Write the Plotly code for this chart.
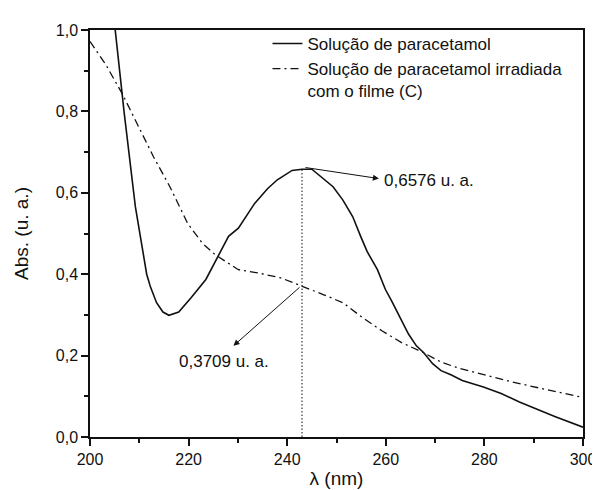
import plotly.graph_objects as go

# Solução de paracetamol (solid)
lam_par = [204.4, 205.1, 206.9, 209.2, 210.5, 211.5, 212.2, 213.5, 214.8, 216.0, 218.0,
           220.5, 223.5, 225.8, 228.1, 230.1, 233.4, 236.0, 238.0, 241.0, 243.0, 245.0,
           247.3, 249.3, 251.3, 253.3, 254.9, 256.2, 258.3, 259.9, 261.2, 262.9, 264.6,
           266.2, 267.7, 269.5, 271.2, 273.2, 275.5, 279.8, 283.4, 287.1, 291.1, 294.4, 300.0]
abs_par = [1.08, 1.0, 0.80, 0.566, 0.47, 0.40, 0.371, 0.330, 0.307, 0.299, 0.307,
           0.342, 0.387, 0.440, 0.493, 0.513, 0.574, 0.610, 0.632, 0.655, 0.658, 0.658,
           0.635, 0.615, 0.582, 0.541, 0.493, 0.456, 0.411, 0.363, 0.334, 0.293, 0.253,
           0.224, 0.207, 0.180, 0.163, 0.153, 0.139, 0.123, 0.107, 0.086, 0.066, 0.050, 0.024]

# Solução de paracetamol irradiada com o filme (C) (dash-dot)
lam_irr = [200.0, 203.2, 206.6, 210.2, 212.9, 216.2, 219.8, 222.8, 225.4, 230.1, 234.1,
           238.7, 243.0, 247.3, 251.3, 255.3, 259.2, 263.2, 267.7, 271.2, 275.1, 279.1,
           285.7, 292.4, 300.0]
abs_irr = [0.972, 0.915, 0.842, 0.753, 0.688, 0.615, 0.525, 0.476, 0.448, 0.411, 0.403,
           0.391, 0.3709, 0.350, 0.330, 0.293, 0.261, 0.232, 0.207, 0.184, 0.168, 0.155,
           0.135, 0.117, 0.097]

PEAK_LAMBDA = 243
PEAK_ABS = 0.6576
IRR_ABS = 0.3709

x_ticks = [200, 220, 240, 260, 280, 300]
y_ticks = [0.0, 0.2, 0.4, 0.6, 0.8, 1.0]

FONT = "Arial, Liberation Sans, sans-serif"
INK = "#111111"

fig = go.Figure()
fig.add_trace(go.Scatter(x=lam_par, y=abs_par, mode="lines",
                         name="Solução de paracetamol",
                         line=dict(color=INK, width=1.6)))
fig.add_trace(go.Scatter(x=lam_irr, y=abs_irr, mode="lines",
                         name="Solução de paracetamol irradiada<br>com o filme (C)",
                         line=dict(color=INK, width=1.3, dash="8px,4px,2px,4px")))
fig.add_trace(go.Scatter(x=[PEAK_LAMBDA, PEAK_LAMBDA], y=[0, PEAK_ABS], mode="lines",
                         showlegend=False, hoverinfo="skip",
                         line=dict(color=INK, width=1, dash="1.5px,2px")))

# arrows (head at label side, tail at data point)
fig.add_annotation(x=258.6, y=0.635, ax=PEAK_LAMBDA + 0.4, ay=PEAK_ABS + 0.005,
                   xref="x", yref="y", axref="x", ayref="y", text="",
                   showarrow=True, arrowhead=2, arrowsize=1.2, arrowwidth=1, arrowcolor=INK)
fig.add_annotation(x=259.2, y=0.630, xref="x", yref="y", xanchor="left", yanchor="middle",
                   text="0,6576 u. a.", showarrow=False,
                   font=dict(family=FONT, size=17, color=INK))
fig.add_annotation(x=229.1, y=0.224, ax=PEAK_LAMBDA - 0.2, ay=IRR_ABS,
                   xref="x", yref="y", axref="x", ayref="y", text="",
                   showarrow=True, arrowhead=2, arrowsize=1.2, arrowwidth=1, arrowcolor=INK)
fig.add_annotation(x=217.7, y=0.185, xref="x", yref="y", xanchor="left", yanchor="middle",
                   text="0,3709 u. a.", showarrow=False,
                   font=dict(family=FONT, size=17, color=INK))

axis_common = dict(showgrid=False, zeroline=False, showline=True, linecolor=INK,
                   linewidth=1.5, mirror=True, ticks="outside", ticklen=7, tickwidth=1.5,
                   tickcolor=INK, tickfont=dict(family=FONT, size=16, color=INK))

fig.update_xaxes(range=[200, 300], tickvals=x_ticks,
                 minor=dict(dtick=10, ticks="outside", ticklen=4, tickwidth=1.5, tickcolor=INK),
                 title=dict(text="λ (nm)", font=dict(family=FONT, size=19, color=INK), standoff=5),
                 **axis_common)
fig.update_yaxes(range=[0, 1.0], tickvals=y_ticks, tickformat=".1f",
                 minor=dict(dtick=0.1, ticks="outside", ticklen=4, tickwidth=1.5, tickcolor=INK),
                 title=dict(text="Abs. (u. a.)", font=dict(family=FONT, size=19, color=INK), standoff=22),
                 **axis_common)

fig.update_layout(
    width=600, height=490,
    margin=dict(l=82, r=15, t=22, b=58),
    plot_bgcolor="white", paper_bgcolor="white",
    separators=",.",
    font=dict(family=FONT, color=INK),
    legend=dict(x=0.36, y=1.01, xanchor="left", yanchor="top",
                bgcolor="rgba(0,0,0,0)", borderwidth=0, valign="top",
                font=dict(family=FONT, size=17, color=INK), tracegroupgap=0),
)

fig.write_html("out.html")
